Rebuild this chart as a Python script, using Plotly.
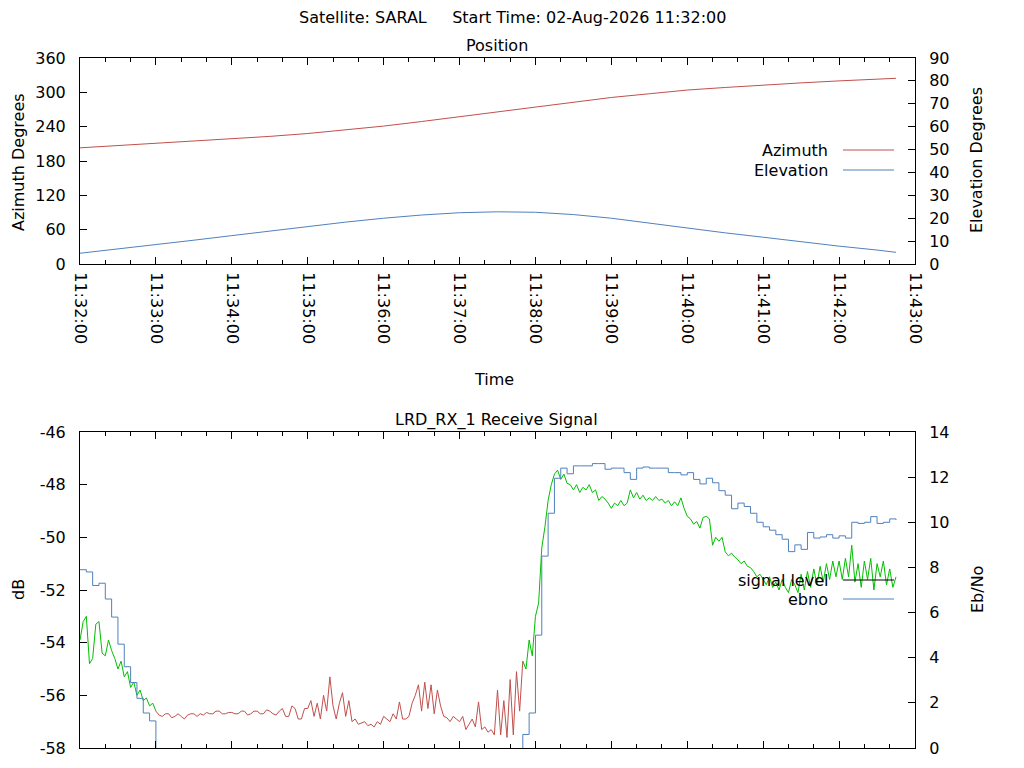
import pandas as pd
import plotly.graph_objects as go

START = "2026-08-02 11:32:00"
END = "2026-08-02 11:43:00"

# Position samples (seconds after start)
position_seconds = [0, 30, 60, 90, 120, 150, 180, 210, 240, 270, 300, 330,
                    360, 390, 420, 450, 480, 510, 540, 570, 600, 630, 645]
azimuth = [203, 207, 211, 214.5, 218.4, 223, 228, 234, 241, 249, 257.5, 266,
           275, 283, 291, 297.5, 304, 308.5, 313, 316.5, 320, 323, 324.5]
elevation = [4.7, 6.5, 8.3, 10.4, 12.4, 14.4, 16.3, 18.3, 20.0, 21.4, 22.4, 22.8,
             22.6, 21.6, 20.0, 17.8, 15.6, 13.6, 11.7, 9.7, 7.8, 6.1, 5.1]

# Receive signal level (dB), one sample every 2.5 s, one row = 30 s
signal_level = [
    -53.9, -53.2, -53.0, -54.8, -54.6, -53.3, -53.2, -54.4, -54.5, -53.9, -54.3, -54.6,
    -55.0, -54.7, -55.3, -55.1, -55.7, -55.5, -56.0, -55.8, -56.2, -56.1, -56.4, -56.3,
    -56.6, -56.75, -56.8, -56.7, -56.7, -56.85, -56.8, -56.7, -56.8, -56.9, -56.75, -56.7,
    -56.7, -56.8, -56.7, -56.75, -56.65, -56.7, -56.7, -56.6, -56.6, -56.7, -56.7, -56.65,
    -56.65, -56.7, -56.7, -56.6, -56.6, -56.75, -56.7, -56.6, -56.6, -56.7, -56.7, -56.55,
    -56.6, -56.7, -56.75, -56.6, -56.5, -56.8, -56.8, -56.4, -56.5, -56.9, -56.9, -56.5,
    -56.5, -56.2, -56.8, -56.3, -56.9, -56.0, -56.6, -55.3, -56.4, -56.9, -56.3, -55.9,
    -56.8, -56.2, -57.0, -56.9, -57.1, -57.05, -57.0, -57.15, -57.1, -57.2, -57.0, -57.1,
    -56.8, -56.9, -57.0, -56.7, -56.9, -56.25, -56.9, -56.9, -56.8, -56.3, -56.0, -55.6,
    -56.6, -55.5, -56.5, -55.6, -56.7, -55.8, -56.4, -56.8, -56.85, -57.0, -56.8, -56.9,
    -57.0, -56.8, -57.3, -57.1, -56.9, -57.2, -56.25, -57.3, -57.2, -57.4, -57.3, -57.5,
    -55.8, -57.5, -56.2, -57.6, -55.4, -57.5, -55.1, -56.6, -54.7, -55.0, -53.9, -54.5,
    -53.0, -52.5, -50.4, -49.6, -48.6, -48.0, -47.6, -47.45, -47.8, -47.6, -47.95, -48.0,
    -48.2, -48.0, -48.3, -48.1, -48.2, -48.0, -48.3, -48.2, -48.6, -48.45, -48.55, -48.7,
    -48.9, -48.7, -48.8, -48.6, -48.8, -48.7, -48.2, -48.5, -48.3, -48.55, -48.4, -48.6,
    -48.5, -48.6, -48.45, -48.6, -48.55, -48.7, -48.6, -48.8, -48.65, -48.8, -48.5, -48.9,
    -49.2, -49.3, -49.5, -49.4, -49.65, -49.25, -49.2, -49.3, -50.3, -50.0, -50.15, -50.0,
    -50.55, -50.7, -50.6, -50.75, -50.85, -51.0, -50.9, -51.1, -51.15, -51.3, -51.5, -51.4,
    -51.6, -51.8, -51.5, -51.9, -51.7, -52.0, -51.6, -51.9, -52.1, -51.6, -51.8, -52.1,
    -51.4, -52.0, -51.3, -51.9, -51.2, -51.8, -51.1, -51.7, -51.0, -51.6, -50.9, -51.5,
    -50.9, -51.6, -50.8, -51.5, -50.3, -51.7, -51.0, -51.9, -50.9, -51.6, -50.8, -52.0,
    -51.0, -51.5, -50.9, -51.8, -51.2, -51.9, -51.5,
]

# Eb/No, one sample every 5 s (below 0 = no lock, off the scale)
ebno = [
    7.9, 7.8, 7.2, 7.3, 6.6, 5.8, 4.6, 3.6, 2.9, 2.2, 1.55, 1.2,
    -1, -1, -1, -1, -1, -1, -1, -1, -1, -1, -1, -1,
    -1, -1, -1, -1, -1, -1, -1, -1, -1, -1, -1, -1,
    -1, -1, -1, -1, -1, -1, -1, -1, -1, -1, -1, -1,
    -1, -1, -1, -1, -1, -1, -1, -1, -1, -1, -1, -1,
    -1, -1, -1, -1, -1, -1, -1, -1, -1, -1, 0.6, 1.55,
    5.0, 8.5, 10.4, 11.95, 12.4, 12.15, 12.5, 12.5, 12.5, 12.6, 12.6, 12.35,
    12.4, 12.4, 12.2, 11.9, 12.4, 12.45, 12.4, 12.4, 12.4, 12.2, 12.2, 12.1,
    12.2, 11.9, 11.7, 11.95, 11.75, 11.4, 11.2, 10.6, 10.85, 10.7, 10.4, 10.0,
    9.8, 9.65, 9.45, 9.25, 8.7, 9.0, 8.8, 9.55, 9.3, 9.35, 9.45, 9.3,
    9.4, 9.3, 10.0, 9.95, 10.0, 10.25, 9.95, 10.0, 10.15, 10.1,
]

# dB tick labels written gnuplot style (plain hyphen)
db_ticks = [-58, -56, -54, -52, -50, -48, -46]
db_tick_labels = ["-58", "-56", "-54", "-52", "-50", "-48", "-46"]

RED = "#c0504d"
BLUE = "#4f81bd"
GREEN = "#00c000"
FONT = "DejaVu Sans"
FSIZE = 16
W, H = 1024, 768
PAGE_MARGIN = 8  # default body margin of the html page


def px(x):
    return (x - PAGE_MARGIN) / W


def py(y):
    return (H - (y - PAGE_MARGIN)) / H


position_time = pd.to_datetime(START) + pd.to_timedelta(position_seconds, unit="s")
signal_time = pd.date_range(START, periods=len(signal_level), freq="2500ms")
ebno_time = pd.date_range(START, periods=len(ebno), freq="5s")

fig = go.Figure()

# Position plot
fig.add_trace(go.Scatter(x=position_time, y=azimuth, mode="lines",
                         line=dict(color=RED, width=1), xaxis="x", yaxis="y"))
fig.add_trace(go.Scatter(x=position_time, y=elevation, mode="lines",
                         line=dict(color=BLUE, width=1), xaxis="x", yaxis="y2"))

# Signal level: green while locked (ebno valid), red otherwise
locked = [ebno[min(i // 2, len(ebno) - 1)] > 0 for i in range(len(signal_level))]
start = 0
for i in range(1, len(signal_level) + 1):
    if i == len(signal_level) or locked[i] != locked[start]:
        stop = min(i + 1, len(signal_level))
        fig.add_trace(go.Scatter(
            x=signal_time[start:stop], y=signal_level[start:stop], mode="lines",
            line=dict(color=GREEN if locked[start] else RED, width=1),
            xaxis="x2", yaxis="y3"))
        start = i

fig.add_trace(go.Scatter(x=ebno_time, y=ebno, mode="lines", line_shape="hv",
                         line=dict(color=BLUE, width=1), xaxis="x2", yaxis="y4"))

x_domain = [px(80), px(915)]
axis_common = dict(showline=True, linecolor="black", linewidth=1, showgrid=False,
                   zeroline=False, ticks="inside", ticklen=7, tickcolor="black",
                   automargin=False,
                   tickfont=dict(family=FONT, size=FSIZE, color="black"))

x_common = dict(axis_common, type="date", range=[START, END], dtick=60000,
                tickformat="%H:%M:%S", mirror="ticks", domain=x_domain,
                minor=dict(ticks="inside", ticklen=4, dtick=20000, tickcolor="black"))

fig.update_layout(
    width=W, height=H,
    margin=dict(l=0, r=0, t=0, b=0),
    paper_bgcolor="white", plot_bgcolor="white",
    showlegend=False,
    font=dict(family=FONT, size=FSIZE, color="black"),
    xaxis=dict(x_common, anchor="y", tickangle=90, ticklabelstandoff=4),
    yaxis=dict(axis_common, domain=[py(264), py(58)], range=[0, 360], dtick=60,
               anchor="x", ticklabelstandoff=10),
    yaxis2=dict(axis_common, overlaying="y", side="right", range=[0, 90], dtick=10,
                anchor="x", ticklabelstandoff=10),
    xaxis2=dict(x_common, anchor="y3", showticklabels=False),
    yaxis3=dict(axis_common, domain=[py(748), py(432)], range=[-58, -46],
                tickmode="array", tickvals=db_ticks, ticktext=db_tick_labels,
                anchor="x2", ticklabelstandoff=10),
    yaxis4=dict(axis_common, overlaying="y3", side="right", range=[0, 14], dtick=2,
                anchor="x2", ticklabelstandoff=10),
)

sp = "\u00a0" * 5
texts = [
    (f"Satellite: SARAL{sp}Start Time: 02-Aug-2026 11:32:00", 512, 17, 0),
    ("Position", 497, 46, 0),
    ("Time", 494, 379, 0),
    ("LRD_RX_1 Receive Signal", 496, 420, 0),
    ("Azimuth Degrees", 18, 162, -90),
    ("Elevation Degrees", 977, 160, -90),
    ("dB", 18, 590, -90),
    ("Eb/No", 977, 590, -90),
]
for text, x, y, angle in texts:
    fig.add_annotation(text=text, x=px(x), y=py(y), xref="paper", yref="paper",
                       showarrow=False, textangle=angle, xanchor="center",
                       yanchor="middle", font=dict(family=FONT, size=FSIZE, color="black"))

# gnuplot style key: label on the left, line sample on the right
key = [("Azimuth", 150, RED), ("Elevation", 170, BLUE),
       ("signal level", 580, "black"), ("ebno", 599, BLUE)]
for label, y, color in key:
    fig.add_annotation(text=label, x=px(830), y=py(y), xref="paper", yref="paper",
                       showarrow=False, xanchor="right", yanchor="middle",
                       font=dict(family=FONT, size=FSIZE, color="black"))
    fig.add_shape(type="line", xref="paper", yref="paper",
                  x0=px(843), x1=px(894), y0=py(y), y1=py(y),
                  line=dict(color=color, width=1))

fig.write_html("out.html")
